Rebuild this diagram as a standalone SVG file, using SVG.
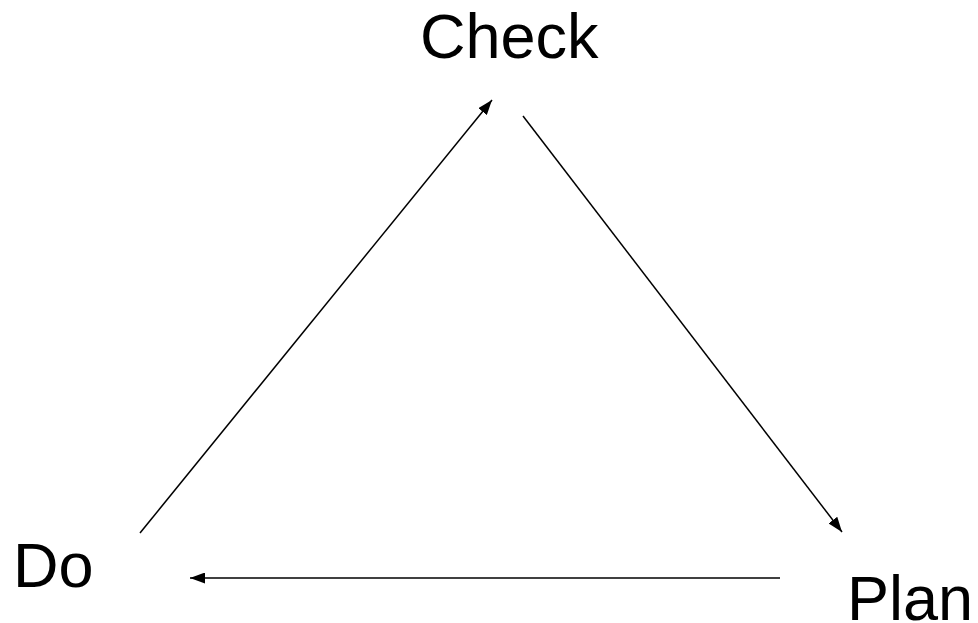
<svg xmlns="http://www.w3.org/2000/svg" width="978" height="623" viewBox="0 0 978 623">
<style>
.lbl{font-family:"Liberation Sans",Arial,sans-serif;font-size:63px;fill:#000}
.edge{stroke:#000;stroke-width:1.5;fill:none;marker-end:url(#ah)}
</style>
<defs>
<marker id="ah" viewBox="0 0 10 10" refX="10" refY="5" markerWidth="15" markerHeight="11" markerUnits="userSpaceOnUse" orient="auto" preserveAspectRatio="none">
<path d="M0,0 L10,5 L0,10 z" fill="#000"/>
</marker>
</defs>
<rect width="978" height="623" fill="#fff"/>
<g id="connectors">
<line class="edge" x1="140" y1="533" x2="492" y2="100"/>
<line class="edge" x1="523" y1="116" x2="842" y2="532"/>
<line class="edge" x1="780" y1="578" x2="190" y2="578"/>
</g>
<g id="check"><text class="lbl" x="420" y="58">Check</text></g>
<g id="do"><text class="lbl" x="13" y="587">Do</text></g>
<g id="plan"><text class="lbl" x="847" y="620">Plan</text></g>
</svg>
